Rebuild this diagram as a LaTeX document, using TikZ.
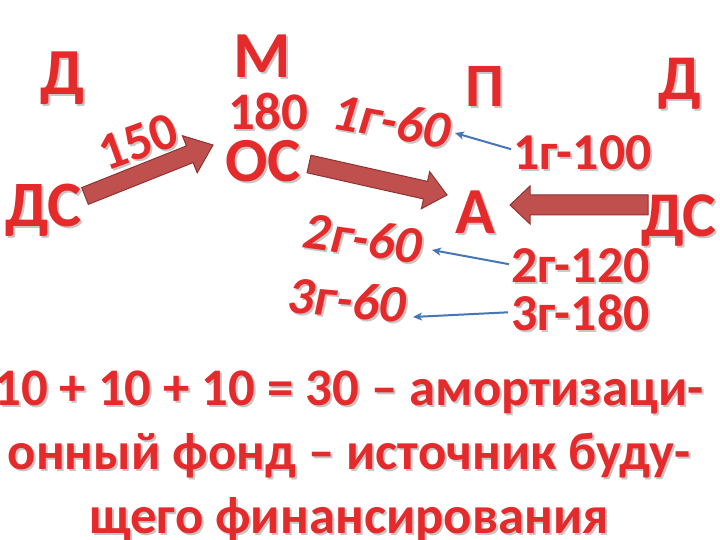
\documentclass[tikz,border=0pt]{standalone}
\usepackage{fontspec}
\setmainfont{Carlito}
\usetikzlibrary{calc,arrows.meta}
\definecolor{redtxt}{RGB}{228,42,42}
\definecolor{shadowc}{RGB}{110,110,110}
\definecolor{arrfill}{RGB}{192,80,77}
\definecolor{arrdraw}{RGB}{140,52,50}
\definecolor{bluearr}{RGB}{70,118,182}
\tikzset{
 txt/.style={inner sep=0pt, outer sep=0pt, text=redtxt},
 fs/.style={font=\bfseries\fontsize{#1}{#1}\selectfont},
 fsi/.style={font=\bfseries\itshape\fontsize{#1}{#1}\selectfont},
 blockarr/.style={fill=arrfill, draw=arrdraw, line width=1bp, line join=miter},
 thinarr/.style={draw=bluearr, line width=2bp, -{Stealth[length=9bp,width=8bp,inset=2.5bp]}},
}
\newcommand\stext[4]{%
 \node[txt,xshift=2bp,yshift=-2bp,#2,text=shadowc,text opacity=0.38] at (#3) {#4};
 \node[txt,#2] (#1) at (#3) {#4};}
\newcommand\blockarrow[5]{%
 \coordinate (BAh) at ($(#2)!#5!(#1)$);
 \draw[blockarr] ($(#1)!#3!90:(#2)$) -- ($(BAh)!#3!90:(#2)$) -- ($(BAh)!#4!90:(#2)$) -- (#2) -- ($(BAh)!#4!-90:(#2)$) -- ($(BAh)!#3!-90:(#2)$) -- ($(#1)!#3!-90:(#2)$) -- cycle;}
\begin{document}
\begin{tikzpicture}[x=1bp,y=-1bp]
\fill[white] (0,0) rectangle (720,540);
\useasboundingbox (0,0) rectangle (720,540);
% top-left group
\stext{d1}{fs=66,anchor=base west}{40,95}{Д}
\stext{m}{fs=66,anchor=base west}{233,78}{М}
\stext{n180}{fs=53,anchor=base west}{228,130}{180}
\stext{os}{fs=63,anchor=base west}{225,182}{ОС}
\stext{ds1}{fs=65,anchor=base west}{5,227}{ДС}
\stext{n150}{fs=53,anchor=center,rotate=20}{138,142}{150}
% middle
\stext{g160}{fsi=53,anchor=center,rotate=-10}{392,121}{1г-60}
\stext{p}{fs=62,anchor=base west}{465,107}{П}
\stext{d2}{fs=64,anchor=base west}{658,100}{Д}
\stext{g1100}{fs=52,anchor=base west}{513,170}{1г-100}
\stext{a}{fs=66,anchor=base west}{455,234}{А}
\stext{ds2}{fs=64,anchor=base west}{641,237}{ДС}
\stext{g260}{fsi=53,anchor=center,rotate=-8}{363,238}{2г-60}
\stext{g2120}{fs=52,anchor=base west}{511,283}{2г-120}
\stext{g360}{fsi=53,anchor=center,rotate=-5}{347,300}{3г-60}
\stext{g3180}{fs=52,anchor=base west}{511,330}{3г-180}
% bottom text
\stext{l1}{fs=53,anchor=base}{349,405}{10 + 10 + 10 = 30 – амортизаци-}
\stext{l2}{fs=53,anchor=base}{349,469}{онный фонд – источник буду-}
\stext{l3}{fs=53,anchor=base}{349,533}{щего финансирования}
% block arrows
\coordinate (a1s) at (85,196);
\coordinate (a1e) at (213,145);
\coordinate (a2s) at (309,164);
\coordinate (a2e) at (447,195);
\coordinate (a3s) at (648,205);
\coordinate (a3e) at (510,205);
\blockarrow{a1s}{a1e}{9bp}{20bp}{25bp}
\blockarrow{a2s}{a2e}{9bp}{19bp}{22bp}
\blockarrow{a3s}{a3e}{10bp}{19bp}{20bp}
% thin blue arrows
\coordinate (e1) at (455,133);
\coordinate (e2) at (432,250);
\coordinate (e3) at (413,317);
\draw[thinarr] ([xshift=-2bp,yshift=4bp]g1100.west) -- (e1);
\draw[thinarr] ([xshift=-2bp,yshift=2bp]g2120.west) -- (e2);
\draw[thinarr] ([xshift=-3bp]g3180.west) -- (e3);
\end{tikzpicture}
\end{document}
